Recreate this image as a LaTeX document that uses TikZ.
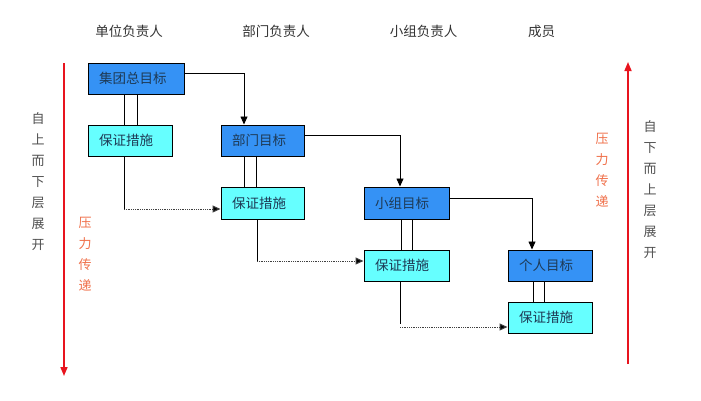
\documentclass[tikz,border=0pt]{standalone}
\usepackage{fontspec}
\setmainfont{Noto Sans CJK SC}
\usetikzlibrary{arrows.meta}
\definecolor{goalblue}{HTML}{3592F5}
\definecolor{measurecyan}{HTML}{66FFFF}
\definecolor{boxtext}{HTML}{1E3A55}
\definecolor{headtext}{HTML}{333333}
\definecolor{sidetext}{HTML}{505050}
\definecolor{presstext}{HTML}{F0704A}
\definecolor{redline}{HTML}{E8141E}
\tikzset{
  x=1pt,y=-1pt,
  every node/.style={font=\fontsize{13.5}{15}\selectfont},
  boxbase/.style={draw=black, line width=1pt, inner xsep=11pt, inner ysep=0pt, minimum height=31pt, align=left, text=boxtext},
  goal/.style={boxbase, fill=goalblue},
  measure/.style={boxbase, fill=measurecyan},
  head/.style={text=headtext},
  vtext/.style={align=center, font=\fontsize{13}{21}\selectfont, inner sep=0pt},
  tri/.style={-{Triangle[length=8pt,width=7pt]}},
  link/.style={line width=0.8pt, black},
  dotlink/.style={line width=1pt, black!75, dash pattern=on 0.8pt off 1pt},
  dottip/.style={-{Triangle[length=8pt,width=7pt,fill=black]}},
  redarrow/.style={line width=1.6pt, redline, -{Triangle[length=9pt,width=7pt]}}
}
\begin{document}
\begin{tikzpicture}
\useasboundingbox (0,0) rectangle (701,400);
\fill[white] (0,0) rectangle (701,400);

% headers
\node[head] (h1) at (129,31) {单位负责人};
\node[head] (h2) at (276,31) {部门负责人};
\node[head] (h3) at (423.5,31) {小组负责人};
\node[head] (h4) at (541.5,31) {成员};

% boxes
\node[goal, text width=74pt] (g1) at (136,78.5) {集团总目标};
\node[measure, text width=62pt] (m1) at (130,140.5) {保证措施};
\node[goal, text width=61pt] (g2) at (262.5,140.5) {部门目标};
\node[measure, text width=61pt, minimum height=32pt] (m2) at (262.5,203) {保证措施};
\node[goal, text width=63pt, minimum height=32pt] (g3) at (406.5,203) {小组目标};
\node[measure, text width=63pt] (m3) at (406.5,265.5) {保证措施};
\node[goal, text width=62pt] (g4) at (550,265.5) {个人目标};
\node[measure, text width=62pt] (m4) at (550,317.5) {保证措施};

% double connectors goal -> measure
\draw[link] (g1.south -| 124,0) -- (m1.north -| 124,0);
\draw[link] (g1.south -| 137,0) -- (m1.north -| 137,0);
\draw[link] (g2.south -| 244,0) -- (m2.north -| 244,0);
\draw[link] (g2.south -| 256,0) -- (m2.north -| 256,0);
\draw[link] (g3.south -| 401,0) -- (m3.north -| 401,0);
\draw[link] (g3.south -| 412,0) -- (m3.north -| 412,0);
\draw[link] (g4.south -| 533,0) -- (m4.north -| 533,0);
\draw[link] (g4.south -| 544,0) -- (m4.north -| 544,0);

% goal -> next goal
\draw[link, tri] (g1.east |- 0,73) -| (g2.north -| 244,0);
\draw[link, tri] (g2.east |- 0,135) -| (g3.north -| 400,0);
\draw[link, tri] (g3.east |- 0,198) -| (g4.north -| 532,0);

% measure -> next measure
\coordinate (c1) at (124,209);
\coordinate (c2) at (257,261);
\coordinate (c3) at (400,324);
\coordinate (c3b) at (400,327);
\draw[link] (m1.south -| c1) -- (c1);
\draw[dotlink, dottip] (c1) -- (m2.west |- c1);
\draw[link] (m2.south -| c2) -- (c2);
\draw[dotlink, dottip] (c2) -- (m3.west |- c2);
\draw[link] (m3.south -| c3) -- (c3);
\draw[dotlink, dottip] (c3b) -- (m4.west |- c3b);

% red arrows
\coordinate (la) at (64,63);
\coordinate (lb) at (64,376);
\coordinate (ra) at (628,364);
\coordinate (rb) at (628,62);
\draw[redarrow] (la) -- (lb);
\draw[redarrow] (ra) -- (rb);

% side texts
\node[vtext, text=sidetext, anchor=north] (s1) at (38,112) {自\\上\\而\\下\\层\\展\\开};
\node[vtext, text=presstext, anchor=north] (p1) at (85,217) {压\\力\\传\\递};
\node[vtext, text=presstext, anchor=north] (p2) at (602,133) {压\\力\\传\\递};
\node[vtext, text=sidetext, anchor=north] (s2) at (650,120) {自\\下\\而\\上\\层\\展\\开};
\end{tikzpicture}
\end{document}
